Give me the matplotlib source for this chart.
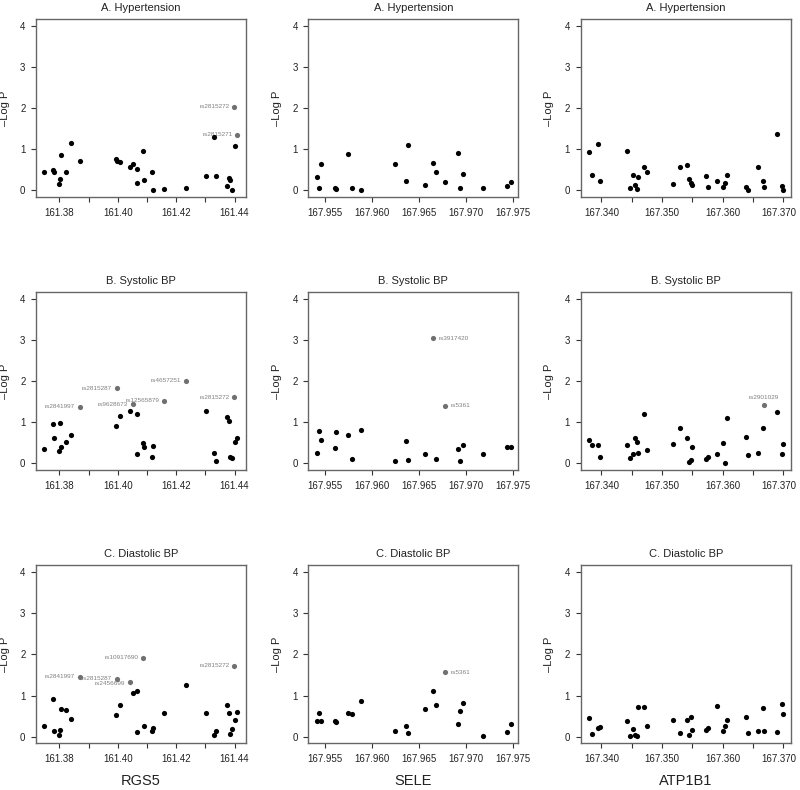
import numpy as np
import matplotlib
matplotlib.use('Agg')
import matplotlib.pyplot as plt
import matplotlib.transforms as mtransforms
from matplotlib.ticker import FixedLocator, FormatStrFormatter

plt.rcParams['font.family'] = ['Liberation Sans', 'DejaVu Sans']

# SNP positions (Mb) per gene, same order in every trait
rgs5_pos = [161.3746, 161.3777, 161.3783, 161.3800, 161.3802, 161.3806, 161.3822, 161.3840,
            161.3869, 161.3993, 161.3997, 161.4006, 161.4042, 161.4051, 161.4065, 161.4067,
            161.4088, 161.4091, 161.4117, 161.4120, 161.4159, 161.4234, 161.4303, 161.4331,
            161.4336, 161.4375, 161.4381, 161.4385, 161.4391, 161.4399, 161.4402, 161.4409]
sele_pos = [167.9541, 167.9543, 167.9546, 167.9561, 167.9562, 167.9574, 167.9579, 167.9588,
            167.9625, 167.9636, 167.9638, 167.9656, 167.9665, 167.9668, 167.9678, 167.9692,
            167.9694, 167.9697, 167.9718, 167.9744, 167.9748]
atp1b1_pos = [167.3380, 167.3384, 167.3394, 167.3397, 167.3443, 167.3447, 167.3452, 167.3455,
              167.3458, 167.3461, 167.3471, 167.3475, 167.3518, 167.3529, 167.3541, 167.3544,
              167.3547, 167.3550, 167.3573, 167.3576, 167.3591, 167.3600, 167.3603, 167.3607,
              167.3638, 167.3642, 167.3658, 167.3667, 167.3668, 167.3690, 167.3698, 167.3700]

# -log10 P
rgs5_htn = [0.44, 0.49, 0.45, 0.15, 0.27, 0.85, 0.44, 1.16, 0.71, 0.77, 0.71, 0.68, 0.58, 0.64, 0.52, 0.19,
            0.96, 0.25, 0.44, 0.01, 0.04, 0.06, 0.36, 1.30, 0.36, 0.10, 0.31, 0.26, 0.02, 2.03, 1.08, 1.35]
rgs5_sbp = [0.35, 0.95, 0.61, 0.31, 0.99, 0.40, 0.53, 0.70, 1.37, 0.91, 1.83, 1.14, 1.28, 1.43, 1.20, 0.22,
            0.49, 0.40, 0.15, 0.43, 1.52, 2.01, 1.26, 0.25, 0.06, 1.12, 1.04, 0.16, 0.14, 1.61, 0.53, 0.61]
rgs5_dbp = [0.27, 0.91, 0.13, 0.04, 0.16, 0.67, 0.65, 0.44, 1.45, 0.53, 1.41, 0.77, 1.33, 1.07, 1.12, 0.12,
            1.92, 0.27, 0.15, 0.21, 0.58, 1.25, 0.57, 0.05, 0.15, 0.78, 0.58, 0.07, 0.19, 1.72, 0.41, 0.61]

sele_htn = [0.32, 0.06, 0.65, 0.06, 0.03, 0.89, 0.07, 0.01, 0.63, 0.22, 1.10, 0.12, 0.67, 0.44, 0.20,
            0.90, 0.05, 0.39, 0.05, 0.10, 0.21]
sele_sbp = [0.25, 0.78, 0.58, 0.38, 0.77, 0.70, 0.10, 0.80, 0.07, 0.54, 0.08, 0.23, 3.04, 0.10, 1.40,
            0.35, 0.07, 0.44, 0.22, 0.40, 0.40]
sele_dbp = [0.39, 0.57, 0.37, 0.39, 0.35, 0.57, 0.55, 0.87, 0.13, 0.27, 0.10, 0.68, 1.11, 0.77, 1.57,
            0.30, 0.63, 0.81, 0.02, 0.12, 0.30]

atp1b1_htn = [0.93, 0.38, 1.12, 0.22, 0.95, 0.06, 0.37, 0.13, 0.04, 0.32, 0.58, 0.45, 0.16, 0.56, 0.62, 0.27,
              0.17, 0.12, 0.34, 0.08, 0.23, 0.09, 0.19, 0.38, 0.09, 0.02, 0.56, 0.23, 0.09, 1.37, 0.10, 0.00]
atp1b1_sbp = [0.57, 0.44, 0.45, 0.16, 0.45, 0.12, 0.22, 0.61, 0.51, 0.25, 1.20, 0.32, 0.48, 0.85, 0.62, 0.04,
              0.09, 0.40, 0.11, 0.15, 0.24, 0.50, 0.00, 1.09, 0.64, 0.20, 0.25, 0.87, 1.41, 1.24, 0.24, 0.48]
atp1b1_dbp = [0.46, 0.07, 0.21, 0.23, 0.37, 0.02, 0.19, 0.04, 0.02, 0.72, 0.73, 0.27, 0.41, 0.10, 0.41, 0.05,
              0.49, 0.17, 0.17, 0.20, 0.74, 0.15, 0.27, 0.40, 0.48, 0.10, 0.15, 0.70, 0.13, 0.12, 0.79, 0.54]

# named SNPs (index into the position lists)
rgs5_snps = {8: 'rs2841997', 10: 'rs2815287', 12: 'rs2456699', 13: 'rs9628673', 16: 'rs10917690',
             20: 'rs12565879', 21: 'rs4657251', 29: 'rs2815272', 31: 'rs2815271'}
sele_snps = {12: 'rs3917420', 14: 'rs5361'}
atp1b1_snps = {28: 'rs2901029'}

# highlighted SNPs per panel
rgs5_hits = [[29, 31], [8, 10, 13, 20, 21, 29], [8, 10, 12, 16, 29]]
sele_hits = [[], [12, 14], [14]]
atp1b1_hits = [[], [28], []]

genes = ['RGS5', 'SELE', 'ATP1B1']
traits = ['A. Hypertension', 'B. Systolic BP', 'C. Diastolic BP']

# x tick marks, and which of them carry a label
rgs5_ticks = [161.38, 161.39, 161.40, 161.41, 161.42, 161.43, 161.44]
rgs5_tick_labels = ['161.38', '', '161.40', '', '161.42', '', '161.44']
sele_ticks = [167.955, 167.960, 167.965, 167.970, 167.975]
sele_tick_labels = ['167.955', '167.960', '167.965', '167.970', '167.975']
atp1b1_ticks = [167.340, 167.345, 167.350, 167.355, 167.360, 167.365, 167.370]
atp1b1_tick_labels = ['167.340', '', '167.350', '', '167.360', '', '167.370']

# where the label sits relative to its point
label_side = {'rs3917420': 'right', 'rs5361': 'right', 'rs2901029': 'top', 'rs2456699': 'leftlow'}

panels = {
    'RGS5': (rgs5_pos, [rgs5_htn, rgs5_sbp, rgs5_dbp], rgs5_snps, rgs5_hits),
    'SELE': (sele_pos, [sele_htn, sele_sbp, sele_dbp], sele_snps, sele_hits),
    'ATP1B1': (atp1b1_pos, [atp1b1_htn, atp1b1_sbp, atp1b1_dbp], atp1b1_snps, atp1b1_hits),
}
xticks = {
    'RGS5': (rgs5_ticks, rgs5_tick_labels),
    'SELE': (sele_ticks, sele_tick_labels),
    'ATP1B1': (atp1b1_ticks, atp1b1_tick_labels),
}
xlims = {
    'RGS5': (161.372, 161.4439),
    'SELE': (167.9532, 167.9756),
    'ATP1B1': (167.3366, 167.3712),
}

W, H = 800, 790
col_left = [36, 308.3, 580.7]
col_w = 210
row_bottom = [197, 470, 743.3]
row_h = 178

fig = plt.figure(figsize=(W / 100, H / 100), dpi=100)

tick_col = '#333333'
spine_col = '#666666'

for r, trait in enumerate(traits):
    for c, gene in enumerate(genes):
        pos, vals, snps, hits = panels[gene]
        ax = fig.add_axes([col_left[c] / W, 1 - row_bottom[r] / H, col_w / W, row_h / H])
        x = np.array(pos)
        y = np.array(vals[r])
        mask = np.ones(len(x), dtype=bool)
        mask[hits[r]] = False
        ax.scatter(x[mask], y[mask], s=14, color='black', linewidths=0, zorder=3)
        if hits[r]:
            ax.scatter(x[hits[r]], y[hits[r]], s=14, color='#707070', linewidths=0, zorder=3)
        for i in hits[r]:
            name = snps[i]
            side = label_side.get(name, 'left')
            if side == 'right':
                off, ha, va = (4, 0), 'left', 'center'
            elif side == 'top':
                off, ha, va = (0, 5.5), 'center', 'center'
            elif side == 'leftlow':
                off, ha, va = (-3.5, -1.5), 'right', 'center'
            else:
                off, ha, va = (-3.5, 0), 'right', 'center'
            ax.annotate(name, (x[i], y[i]), xytext=off, textcoords='offset points',
                        ha=ha, va=va, fontsize=4.6, color='#808080', zorder=2)

        ax.set_xlim(*xlims[gene])
        ax.set_ylim(-0.16, 4.16)
        ticks, labels = xticks[gene]
        ax.set_xticks(ticks)
        ax.set_xticklabels(labels)
        ax.set_yticks([0, 1, 2, 3, 4])
        ax.tick_params(direction='out', length=3.6, width=0.8,
                       color=tick_col, labelcolor='#222222', labelsize=7.0, pad=4)
        for sp in ax.spines.values():
            sp.set_color(spine_col)
            sp.set_linewidth(1.0)

        # keep the right-most label of the last column inside the figure
        if c == 2:
            lab = ax.get_xticklabels()[-1]
            shift = mtransforms.ScaledTranslation(-3 / 72, 0, fig.dpi_scale_trans)
            lab.set_transform(lab.get_transform() + shift)

        ax.set_title(trait, fontsize=8, pad=6, color='#222222')
        ax.set_ylabel('\u2013Log P', fontsize=8, color='#222222')
        ax.yaxis.set_label_coords(-0.125, 0.5)

for c, gene in enumerate(genes):
    fig.text((col_left[c] + col_w / 2) / W, 1 - 781 / H, gene, ha='center', va='center',
             fontsize=10.5, color='#222222')

fig.savefig('out.png', dpi=100)
